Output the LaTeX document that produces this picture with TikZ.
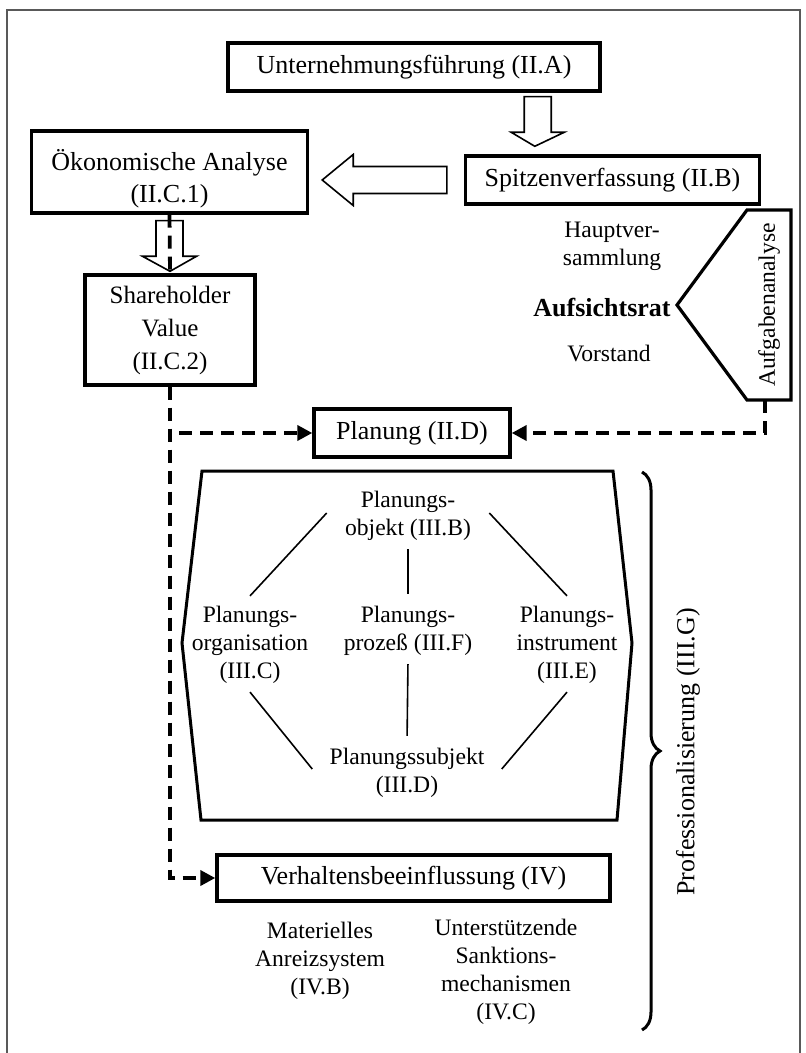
\documentclass[tikz,border=0pt]{standalone}
\usepackage{fontspec}
\setmainfont{Liberation Serif}
\usetikzlibrary{calc,positioning,arrows.meta,decorations.pathreplacing}
\tikzset{
  box/.style={
    rectangle,
    draw=black, line width=1.7pt,
    inner sep=0pt,
    align=center,
    font=\fontsize{13}{16}\selectfont},
  txt/.style={align=center, inner sep=2pt, font=\fontsize{11.8}{14}\selectfont},
  hollowarr/.style={draw=black, line width=0.8pt, fill=white},
  dashline/.style={draw, line width=1.9pt, dash pattern=on 6.5pt off 4pt},
  dasharrow/.style={dashline, -{Triangle[length=7.5pt,width=7.5pt]}},
  decoration={brace, amplitude=9pt},
  klammer/.style={decorate, line width=1.5pt},
}
\newcommand{\hollowdown}[5]{%
  \draw[hollowarr] let \p1=(#1), \p2=(#2) in
    (\x1-#3,\y1) -- (\x1+#3,\y1) -- (\x1+#3,\y2+#5) -- (\x1+#4,\y2+#5)
    -- (\x2,\y2) -- (\x1-#4,\y2+#5) -- (\x1-#3,\y2+#5) -- cycle;}
\newcommand{\hollowleft}[5]{%
  \draw[hollowarr] let \p1=(#1), \p2=(#2) in
    (\x1,\y1+#3) -- (\x1,\y1-#3) -- (\x2+#5,\y1-#3) -- (\x2+#5,\y1-#4)
    -- (\x2,\y2) -- (\x2+#5,\y1+#4) -- (\x2+#5,\y1+#3) -- cycle;}

\begin{document}
\begin{tikzpicture}[x=0.5pt, y=-0.5pt]
  \tikzset{
      frameline/.style={draw=black!65, line width=1pt},
      octline/.style={draw=black, line width=1.5pt},
      thinline/.style={draw=black, line width=0.8pt},
      auftrag/.style={draw=black, line width=1.6pt},
  }
  \useasboundingbox (0,0) rectangle (805,1053);
  \draw[frameline] (7,1060) |- (800,10) -- (800,1060);

  \node[box, minimum width=186pt, minimum height=24pt] (fuehrung) at (414,67) {Unternehmungsführung (II.A)};
  \node[box, minimum width=147pt, minimum height=24pt] (spitze) at (612.5,180) {Spitzenverfassung (II.B)};
  \node[box, minimum width=138pt, minimum height=41pt] (oekonom) at (169.5,172) {};
  \node[box, draw=none] (oekonomtext) at (169.5,179) {Ökonomische Analyse\\(II.C.1)};
  \node[box, minimum width=85pt, minimum height=55pt, font=\fontsize{12.5}{16.5}\selectfont] (sharehold) at (170,330) {Shareholder\\Value\\(II.C.2)};
  \node[box, minimum width=98pt, minimum height=24pt] (planung) at (412,433) {Planung (II.D)};
  \node[box, minimum width=196.5pt, minimum height=23pt] (verhalten) at (413.5,878) {Verhaltensbeeinflussung (IV)};

  \node[txt] (hauptv) at (612,246.5) {Hauptver-\\sammlung};
  \node[txt, anchor=east, font=\fontsize{13}{14}\selectfont\bfseries] (aufsicht) at (675,308) {Aufsichtsrat};
  \node[txt] (vorstand) at (609,353) {Vorstand};
  \coordinate (aufspitze) at (677,305);
  \coordinate (aufunten) at (765,400);
  \draw[auftrag] (747,210) -- (791,210) -- (791,400) -- (747,400) -- (aufspitze) -- cycle;
  \node[txt, rotate=90] (aufgabe) at (769,305) {Aufgabenanalyse};

  \hollowdown{$(fuehrung.south east)+(-64,4)$}{$(spitze.north west)+(71,-8)$}{6.75pt}{13.25pt}{7pt}
  \hollowleft{$(spitze.west)+(-17,0)$}{$(oekonom.east |- spitze.west)+(13,0)$}{6.75pt}{12.75pt}{15.5pt}
  \hollowdown{$(oekonom.south)+(0,6)$}{$(sharehold.north)+(0,-2)$}{6.75pt}{13.5pt}{7.5pt}

  \path[dashline] (oekonom.south) -- (sharehold.north);
  \path[dasharrow] (sharehold.south) |- (verhalten.west);
  \path[dasharrow] ($(sharehold.south |- planung.west)+(9,0)$) -- (planung.west);
  \path[dasharrow] (aufunten) |- (planung.east);

  \draw[octline] (202,471) -- (613,471) -- (632,643) -- (617,820) -- (201,820) -- (182,643) -- cycle;
  \node[txt] (obj) at (408,516) {Planungs-\\objekt (III.B)};
  \node[txt] (org) at (250,645) {Planungs-\\organisation\\(III.C)};
  \node[txt] (proz) at (408,631) {Planungs-\\prozeß (III.F)};
  \node[txt] (instr) at (567,645) {Planungs-\\instrument\\(III.E)};
  \node[txt] (subj) at (407,773) {Planungssubjekt\\(III.D)};
  \path[thinline] ($(obj.west)+(-14,-3)$) -- ($(org.north)+(0,-6)$);
  \path[thinline] ($(obj.east)+(14,-3)$) -- ($(instr.north)+(0,-6)$);
  \path[thinline, shorten <=2pt, shorten >=4pt] (obj.south) -- (proz.north);
  \path[thinline, shorten <=2pt, shorten >=4pt] (proz.south) -- (subj.north);
  \path[thinline] ($(org.south)+(0,4)$) -- ($(subj.west)+(-13,-4)$);
  \path[thinline] ($(instr.south)+(0,4)$) -- ($(subj.east)+(13,-4)$);

  \node[txt] (mat) at (320,961) {Materielles\\Anreizsystem\\(IV.B)};
  \node[txt] (unter) at (506,971.5) {Unterstützende\\Sanktions-\\mechanismen\\(IV.C)};

  \coordinate (klammeroben) at (642,472);
  \coordinate (klammerunten) at (642,1030);
  \draw[klammer] (klammeroben) -- (klammerunten);
  \node[rotate=90, font=\fontsize{13}{16}\selectfont] (prof) at (688,752) {Professionalisierung (III.G)};
\end{tikzpicture}
\end{document}
